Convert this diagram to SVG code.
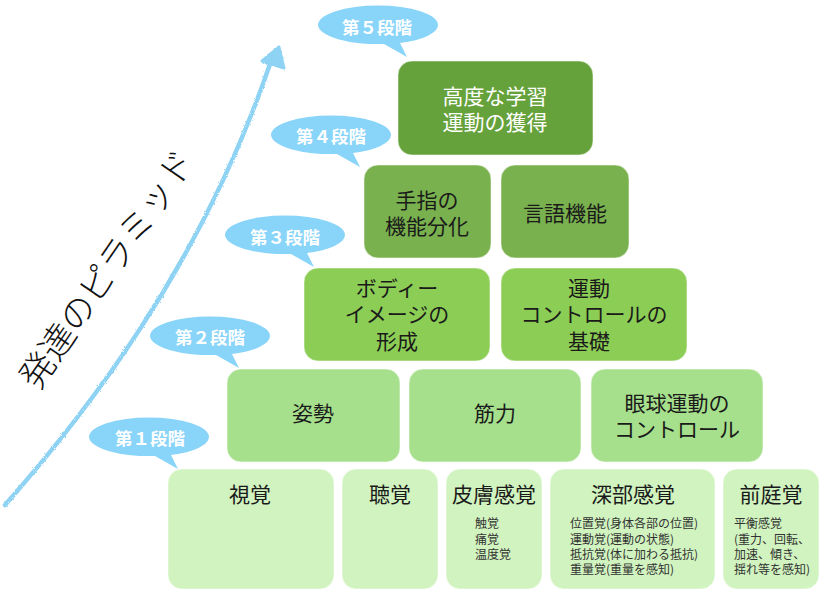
<svg xmlns="http://www.w3.org/2000/svg" width="833" height="599" viewBox="0 0 833 599">
<style>
  .box { stroke: #ffffff; stroke-opacity: 0.5; stroke-width: 1; }
  .l5 { fill: #66a23b; }
  .l4 { fill: #79b14e; }
  .l3 { fill: #8ccd55; }
  .l2 { fill: #a6e08c; }
  .l1 { fill: #d1f3bf; }
  .t { font-family: "Noto Sans CJK JP", "Noto Sans", sans-serif; font-size: 21px; fill: #1a1a1a; text-anchor: middle; dominant-baseline: central; }
  .tw { fill: #ffffff; }
  .s { font-family: "Noto Sans CJK JP", "Noto Sans", sans-serif; font-size: 12px; fill: #333333; dominant-baseline: central; }
  .bt { font-family: "Noto Sans CJK JP", "Noto Sans", sans-serif; font-size: 17.5px; font-weight: bold; fill: #ffffff; text-anchor: middle; dominant-baseline: central; }
  .bub { fill: #89d4f9; }
  .arr { fill: none; stroke: #8fd3f4; stroke-width: 4.5; stroke-linecap: round; }
  .title { font-family: "Noto Sans CJK JP", "Noto Sans", sans-serif; font-size: 35px; font-weight: 300; fill: #111111; text-anchor: middle; dominant-baseline: central; }
</style>
<defs>
  <filter id="rough" x="-10%" y="-10%" width="120%" height="120%">
    <feTurbulence type="fractalNoise" baseFrequency="0.9" numOctaves="2" seed="3" result="n"/>
    <feDisplacementMap in="SourceGraphic" in2="n" scale="2.5"/>
  </filter>
  <path id="bubble" class="bub" d="M -60 0 A 60 19.5 0 1 1 60 0 A 60 19.5 0 0 1 22 18 L 29 32 L 6 19 A 60 19.5 0 0 1 -60 0 Z"/>
</defs>

<!-- growth arrow -->
<g id="connectors" filter="url(#rough)">
  <path class="arr" d="M 5 505 C 80 420, 200 270, 270 64"/>
  <path d="M 279 47 L 262 61 L 284 68 Z" fill="#8fd3f4" stroke="#8fd3f4" stroke-width="3" stroke-linejoin="round"/>
</g>

<text class="title" transform="translate(104.5 267.5) rotate(-55.6)">発達のピラミッド</text>

<!-- stage bubbles -->
<g id="stage5"><use href="#bubble" x="378" y="25"/><text class="bt" x="377" y="26">第５段階</text></g>
<g id="stage4"><use href="#bubble" x="331" y="135"/><text class="bt" x="331" y="135">第４段階</text></g>
<g id="stage3"><use href="#bubble" x="285" y="235"/><text class="bt" x="285" y="236">第３段階</text></g>
<g id="stage2"><use href="#bubble" x="210" y="336"/><text class="bt" x="210" y="336">第２段階</text></g>
<g id="stage1"><use href="#bubble" x="149" y="437"/><text class="bt" x="150" y="437">第１段階</text></g>

<!-- level 5 -->
<g id="n-advanced">
  <rect class="box l5" x="398" y="61" width="195" height="94" rx="14"/>
  <text class="t tw"><tspan x="495" y="95">高度な学習</tspan><tspan x="495" y="121">運動の獲得</tspan></text>
</g>

<!-- level 4 -->
<g id="n-finger">
  <rect class="box l4" x="364" y="165" width="127" height="93" rx="14"/>
  <text class="t"><tspan x="427" y="199">手指の</tspan><tspan x="427" y="225">機能分化</tspan></text>
</g>
<g id="n-language">
  <rect class="box l4" x="501" y="165" width="128" height="93" rx="14"/>
  <text class="t" x="565" y="212">言語機能</text>
</g>

<!-- level 3 -->
<g id="n-bodyimage">
  <rect class="box l3" x="304" y="268" width="186" height="93" rx="14"/>
  <text class="t"><tspan x="397" y="287">ボディー</tspan><tspan x="397" y="313">イメージの</tspan><tspan x="397" y="340">形成</tspan></text>
</g>
<g id="n-motorcontrol">
  <rect class="box l3" x="501" y="268" width="186" height="93" rx="14"/>
  <text class="t"><tspan x="589" y="287">運動</tspan><tspan x="594" y="313">コントロールの</tspan><tspan x="589" y="340">基礎</tspan></text>
</g>

<!-- level 2 -->
<g id="n-posture">
  <rect class="box l2" x="227" y="369" width="173" height="93" rx="14"/>
  <text class="t" x="313" y="412">姿勢</text>
</g>
<g id="n-strength">
  <rect class="box l2" x="409" y="369" width="172" height="93" rx="14"/>
  <text class="t" x="495" y="412">筋力</text>
</g>
<g id="n-eye">
  <rect class="box l2" x="591" y="369" width="172" height="93" rx="14"/>
  <text class="t"><tspan x="677" y="402">眼球運動の</tspan><tspan x="677" y="428">コントロール</tspan></text>
</g>

<!-- level 1 -->
<g id="n-vision">
  <rect class="box l1" x="168" y="469" width="166" height="120" rx="14"/>
  <text class="t" x="250" y="493">視覚</text>
</g>
<g id="n-hearing">
  <rect class="box l1" x="342" y="469" width="96" height="120" rx="14"/>
  <text class="t" x="390" y="493">聴覚</text>
</g>
<g id="n-skin">
  <rect class="box l1" x="446" y="469" width="96" height="120" rx="14"/>
  <text class="t" x="494" y="493">皮膚感覚</text>
  <text class="s"><tspan x="475" y="522">触覚</tspan><tspan x="475" y="538">痛覚</tspan><tspan x="475" y="553">温度覚</tspan></text>
</g>
<g id="n-deep">
  <rect class="box l1" x="550" y="469" width="165" height="120" rx="14"/>
  <text class="t" x="633" y="493">深部感覚</text>
  <text class="s"><tspan x="570" y="522">位置覚(身体各部の位置)</tspan><tspan x="570" y="538">運動覚(運動の状態)</tspan><tspan x="570" y="553">抵抗覚(体に加わる抵抗)</tspan><tspan x="570" y="568">重量覚(重量を感知)</tspan></text>
</g>
<g id="n-vestibular">
  <rect class="box l1" x="723" y="469" width="96" height="120" rx="14"/>
  <text class="t" x="771" y="493">前庭覚</text>
  <text class="s"><tspan x="734" y="522">平衡感覚</tspan><tspan x="734" y="538">(重力、回転、</tspan><tspan x="734" y="553">加速、傾き、</tspan><tspan x="734" y="568">揺れ等を感知)</tspan></text>
</g>
</svg>
